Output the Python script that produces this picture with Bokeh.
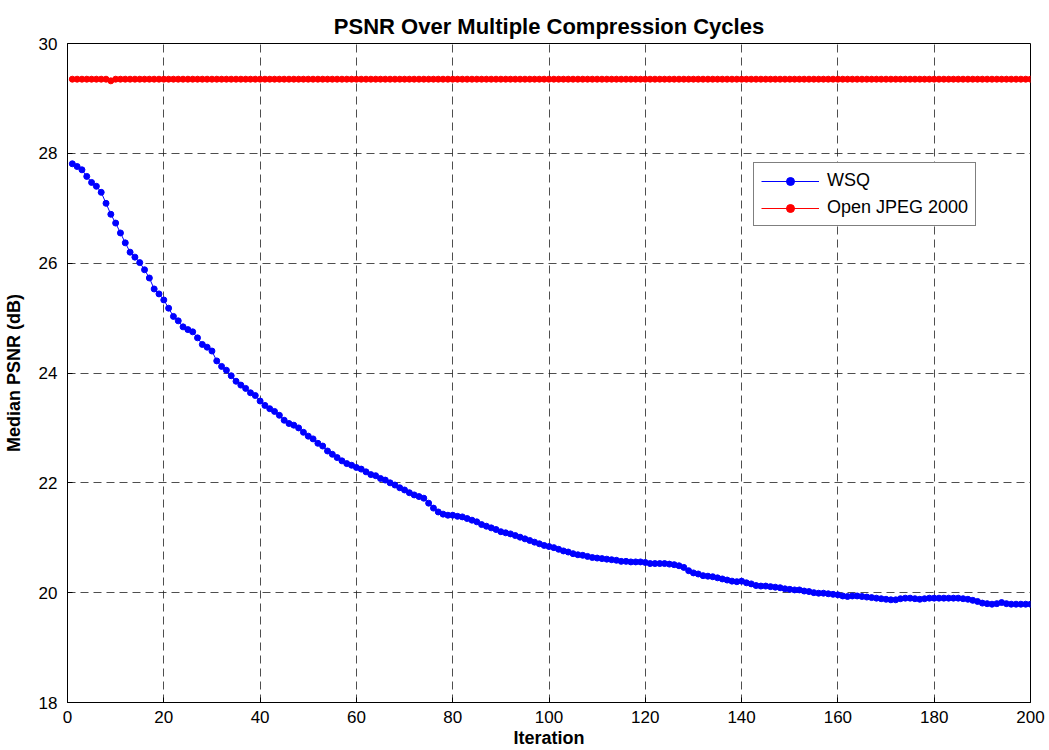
from bokeh.plotting import figure
from bokeh.models import Range1d, SingleIntervalTicker, Legend, LegendItem
from bokeh.embed import file_html
from bokeh.resources import INLINE

# ---------------- data ----------------
iterations = list(range(1, 201))

wsq = [
    27.81, 27.76, 27.70, 27.58, 27.47, 27.40, 27.29, 27.09, 26.89, 26.73,
    26.55, 26.37, 26.20, 26.11, 26.01, 25.88, 25.73, 25.53, 25.44, 25.33,
    25.18, 25.03, 24.95, 24.84, 24.79, 24.75, 24.64, 24.52, 24.47, 24.40,
    24.22, 24.12, 24.05, 23.95, 23.85, 23.78, 23.72, 23.64, 23.59, 23.49,
    23.41, 23.35, 23.30, 23.23, 23.14, 23.08, 23.05, 23.00, 22.92, 22.85,
    22.80, 22.72, 22.67, 22.58, 22.52, 22.46, 22.40, 22.35, 22.32, 22.28,
    22.25, 22.20, 22.15, 22.13, 22.08, 22.05, 22.00, 21.96, 21.91, 21.87,
    21.82, 21.78, 21.75, 21.72, 21.63, 21.54, 21.47, 21.43, 21.41, 21.41,
    21.39, 21.38, 21.35, 21.32, 21.29, 21.24, 21.21, 21.18, 21.15, 21.11,
    21.09, 21.07, 21.04, 21.01, 20.98, 20.95, 20.92, 20.89, 20.86, 20.84,
    20.82, 20.79, 20.76, 20.74, 20.71, 20.69, 20.68, 20.66, 20.64, 20.63,
    20.62, 20.61, 20.60, 20.59, 20.57, 20.57, 20.56, 20.56, 20.56, 20.55,
    20.53, 20.53, 20.53, 20.53, 20.52, 20.51, 20.49, 20.46, 20.40, 20.36,
    20.34, 20.31, 20.30, 20.29, 20.27, 20.25, 20.23, 20.21, 20.20, 20.21,
    20.18, 20.16, 20.13, 20.12, 20.12, 20.11, 20.10, 20.09, 20.07, 20.06,
    20.05, 20.05, 20.03, 20.02, 20.00, 19.99, 19.99, 19.98, 19.97, 19.96,
    19.94, 19.93, 19.94, 19.94, 19.93, 19.92, 19.91, 19.90, 19.89, 19.88,
    19.87, 19.87, 19.89, 19.90, 19.90, 19.89, 19.88, 19.89, 19.90, 19.90,
    19.90, 19.90, 19.90, 19.90, 19.90, 19.89, 19.88, 19.86, 19.84, 19.81,
    19.80, 19.79, 19.80, 19.82, 19.80, 19.79, 19.79, 19.79, 19.79, 19.79,
]

openjpeg = [
    29.35, 29.35, 29.35, 29.35, 29.35, 29.35, 29.35, 29.35, 29.32, 29.35,
    29.35, 29.35, 29.35, 29.35, 29.35, 29.35, 29.35, 29.35, 29.35, 29.35,
    29.35, 29.35, 29.35, 29.35, 29.35, 29.35, 29.35, 29.35, 29.35, 29.35,
    29.35, 29.35, 29.35, 29.35, 29.35, 29.35, 29.35, 29.35, 29.35, 29.35,
    29.35, 29.35, 29.35, 29.35, 29.35, 29.35, 29.35, 29.35, 29.35, 29.35,
    29.35, 29.35, 29.35, 29.35, 29.35, 29.35, 29.35, 29.35, 29.35, 29.35,
    29.35, 29.35, 29.35, 29.35, 29.35, 29.35, 29.35, 29.35, 29.35, 29.35,
    29.35, 29.35, 29.35, 29.35, 29.35, 29.35, 29.35, 29.35, 29.35, 29.35,
    29.35, 29.35, 29.35, 29.35, 29.35, 29.35, 29.35, 29.35, 29.35, 29.35,
    29.35, 29.35, 29.35, 29.35, 29.35, 29.35, 29.35, 29.35, 29.35, 29.35,
    29.35, 29.35, 29.35, 29.35, 29.35, 29.35, 29.35, 29.35, 29.35, 29.35,
    29.35, 29.35, 29.35, 29.35, 29.35, 29.35, 29.35, 29.35, 29.35, 29.35,
    29.35, 29.35, 29.35, 29.35, 29.35, 29.35, 29.35, 29.35, 29.35, 29.35,
    29.35, 29.35, 29.35, 29.35, 29.35, 29.35, 29.35, 29.35, 29.35, 29.35,
    29.35, 29.35, 29.35, 29.35, 29.35, 29.35, 29.35, 29.35, 29.35, 29.35,
    29.35, 29.35, 29.35, 29.35, 29.35, 29.35, 29.35, 29.35, 29.35, 29.35,
    29.35, 29.35, 29.35, 29.35, 29.35, 29.35, 29.35, 29.35, 29.35, 29.35,
    29.35, 29.35, 29.35, 29.35, 29.35, 29.35, 29.35, 29.35, 29.35, 29.35,
    29.35, 29.35, 29.35, 29.35, 29.35, 29.35, 29.35, 29.35, 29.35, 29.35,
    29.35, 29.35, 29.35, 29.35, 29.35, 29.35, 29.35, 29.35, 29.35, 29.35,
]

series_names = ["WSQ", "Open JPEG 2000"]
series_colors = ["#0000ff", "#ff0000"]

title_text = "PSNR Over Multiple Compression Cycles"
x_label = "Iteration"
y_label = "Median PSNR (dB)"

# ---------------- figure ----------------
FONT = "Liberation Sans"

p = figure(
    width=1049, height=750,
    x_range=Range1d(0, 200), y_range=Range1d(18, 30),
    output_backend="svg", toolbar_location=None,
    min_border_left=66, min_border_right=19,
    min_border_top=43, min_border_bottom=47,
    background_fill_color="white", border_fill_color="white",
)

p.title.text = title_text
p.title.align = "center"
p.title.text_font = FONT
p.title.text_font_size = "22px"
p.title.text_font_style = "bold"
p.title.text_color = "black"

p.outline_line_color = "black"
p.outline_line_width = 1
p.outline_line_alpha = 1

p.xaxis.ticker = SingleIntervalTicker(interval=20)
p.yaxis.ticker = SingleIntervalTicker(interval=2)

for ax in (p.xaxis[0], p.yaxis[0]):
    ax.axis_line_color = "black"
    ax.major_tick_line_color = "black"
    ax.major_tick_in = 5
    ax.major_tick_out = 0
    ax.minor_tick_line_color = None
    ax.major_label_text_font = FONT
    ax.major_label_text_font_size = "17px"
    ax.major_label_text_color = "black"
    ax.axis_label_text_font = FONT
    ax.axis_label_text_font_size = "18px"
    ax.axis_label_text_font_style = "bold"
    ax.axis_label_text_color = "black"

p.xaxis.axis_label = x_label
p.yaxis.axis_label = y_label
p.xaxis.major_label_standoff = 4
p.yaxis.major_label_standoff = 6
p.xaxis.axis_label_standoff = 2
p.yaxis.axis_label_standoff = 12

for g in (p.xgrid[0], p.ygrid[0]):
    g.grid_line_color = "#222222"
    g.grid_line_dash = "8 5"
    g.grid_line_width = 1
    g.grid_line_alpha = 0.8

items = []
for vals, name, col in zip([wsq, openjpeg], series_names, series_colors):
    ln = p.line(iterations, vals, line_color=col, line_width=1)
    sc = p.scatter(iterations, vals, size=6, fill_color=col, line_color=col)
    items.append(LegendItem(label=name, renderers=[ln, sc]))

legend = Legend(
    items=items,
    location=(686, 476),
    label_text_font=FONT,
    label_text_font_size="18px",
    label_text_color="black",
    label_standoff=8,
    glyph_width=58,
    glyph_height=20,
    label_height=20,
    spacing=6,
    padding=7,
    margin=0,
    border_line_color="black",
    border_line_width=1,
    background_fill_color="white",
    background_fill_alpha=1,
)
p.add_layout(legend, "center")

open("out.html", "w").write(file_html(p, INLINE))
